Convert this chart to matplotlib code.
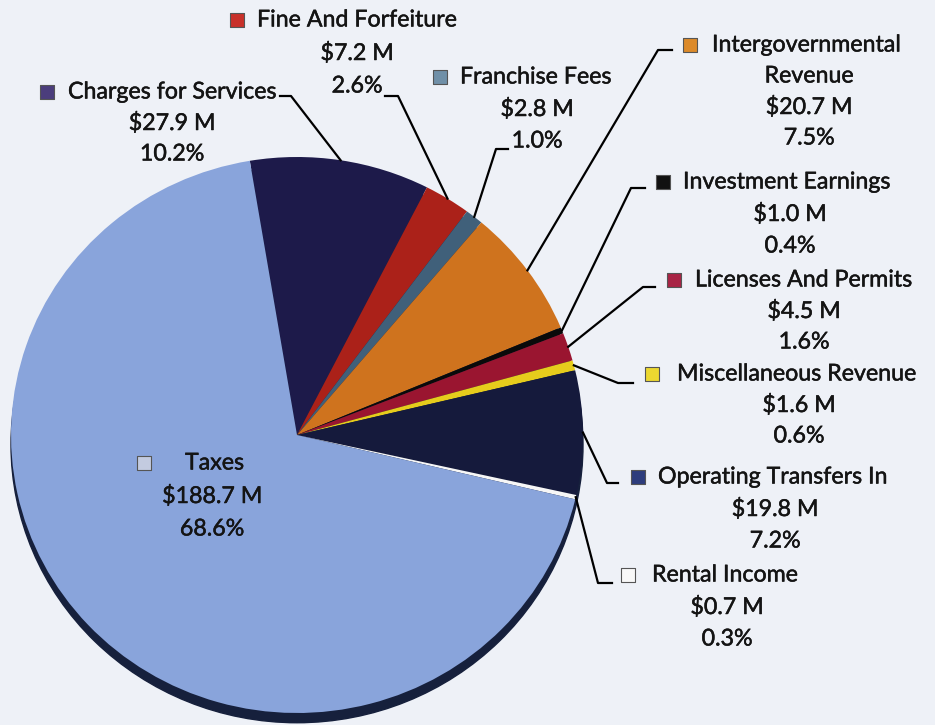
import numpy as np
import matplotlib.pyplot as plt
import matplotlib.patheffects as pe
from matplotlib.patches import Ellipse

plt.rcParams['font.family'] = ['Lato', 'DejaVu Sans']

# revenue sources, in pie order (clockwise from the top)
categories = ['Charges for Services', 'Fine And Forfeiture', 'Franchise Fees',
              'Intergovernmental\nRevenue', 'Investment Earnings', 'Licenses And Permits',
              'Miscellaneous Revenue', 'Operating Transfers In', 'Rental Income', 'Taxes']
amounts = [27.9, 7.2, 2.8, 20.7, 1.0, 4.5, 1.6, 19.8, 0.7, 188.7]   # $ M
percents = [10.2, 2.6, 1.0, 7.5, 0.4, 1.6, 0.6, 7.2, 0.3, 68.6]

slice_colors = ['#1d1a4a', '#ab2119', '#40607a', '#cf731e', '#0a0a0a',
                '#9a1530', '#e6cc1c', '#151a3c', '#f6f6f6', '#89a4db']
key_colors = ['#4b3d7c', '#c8302a', '#7090a8', '#dc8a2a', '#111111',
              '#a82445', '#ecd830', '#2d3c7c', '#f8f8f8', '#c3cbe0']

# label layout in pixels: key x, text x, first line y, centre x of value lines, line step
label_pos = [
    (47, 68, 92, 172, 31),
    (237, 257, 20, 357, 33),
    (440, 460, 77, 537, 32),
    (690, 712, 45, 809, 31),
    (663, 683, 182, 790, 32),
    (674, 695, 280, 804, 31),
    (652, 677, 374, 799, 31),
    (638, 658, 477, 775, 32),
    (628, 652, 575, 727, 32),
    (144, 185, 463, 212, 33),
]
# leader elbows: (elbow x, elbow y, end x)
leaders = [(291, 96, 280), (398, 96, 385), (496, 149, 508), (658, 50, 672),
           (631, 188, 645), (643, 287, 655), (618, 383, 633), (607, 483, 618),
           (598, 583, 612), None]

W, H = 935, 725
cx, cy, rx, ry = 297, 435, 286, 278
start = 99.5

fig = plt.figure(figsize=(W / 100, H / 100), dpi=100)
fig.patch.set_facecolor('#eef1f7')

# pie on its own axes, slightly squashed like the tilted original
pax = fig.add_axes([(cx - rx) / W, (H - cy - ry) / H, 2 * rx / W, 2 * ry / H])
side = Ellipse((0, -0.035), 2.0, 2.0, color='#16203c', clip_on=False, zorder=0)
pax.add_patch(side)
wedges, _ = pax.pie(amounts, colors=slice_colors, startangle=start, counterclock=False,
                    wedgeprops=dict(linewidth=0))
for w in wedges:
    w.set_clip_on(False)
    w.set_zorder(1)
pax.set_aspect('auto')
pax.set_xlim(-1, 1)
pax.set_ylim(-1, 1)
pax.axis('off')

# overlay in image pixel coordinates for labels and leader lines
ax = fig.add_axes([0, 0, 1, 1])
ax.set_xlim(0, W)
ax.set_ylim(H, 0)
ax.axis('off')
ax.patch.set_alpha(0)

fs = 16.7
heavy = [pe.withStroke(linewidth=0.35, foreground='#141414')]
for i, name in enumerate(categories):
    kx, tx, y1, vcx, step = label_pos[i]
    parts = name.split('\n')
    ax.scatter([kx], [y1], marker='s', s=95, color=key_colors[i],
               edgecolor='#555555', linewidth=0.8, zorder=5)
    ax.text(tx, y1, parts[0], ha='left', va='center', fontsize=fs, color='#141414',
            path_effects=heavy)
    lines = parts[1:] + ['$%.1f M' % amounts[i], '%.1f%%' % percents[i]]
    for k, t in enumerate(lines):
        ax.text(vcx, y1 + step * (k + 1), t, ha='center', va='center',
                fontsize=fs, color='#141414', path_effects=heavy)

    if leaders[i] is None:
        continue
    # leader starts on the pie edge at the middle of the slice
    w = wedges[i]
    mid = np.deg2rad((w.theta1 + w.theta2) / 2)
    px = cx + rx * np.cos(mid)
    py = cy - ry * np.sin(mid)
    ex, ey, endx = leaders[i]
    ax.plot([px, ex, endx], [py, ey, ey], color='black', lw=1.6, zorder=4)

fig.savefig('out.png', dpi=100, facecolor=fig.get_facecolor())
